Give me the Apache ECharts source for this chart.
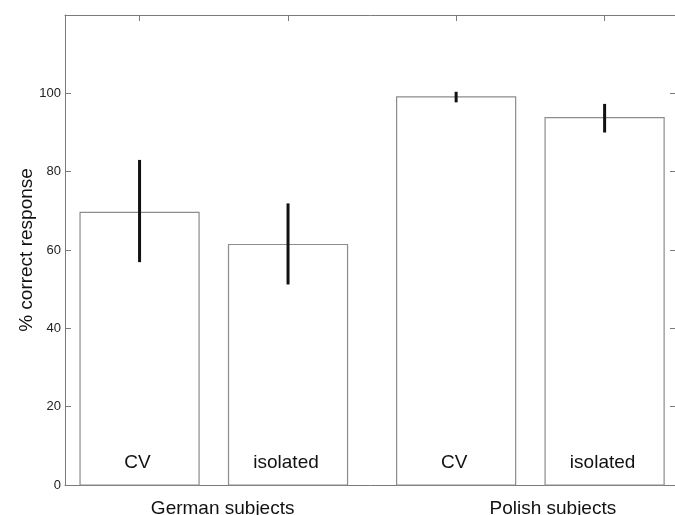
<!DOCTYPE html>
<html>
<head>
<meta charset="utf-8">
<script src="https://cdn.jsdelivr.net/npm/echarts@6/dist/echarts.min.js"></script>
<style>html,body{margin:0;padding:0;background:#fff}#c{width:675px;height:515px}</style>
</head>
<body>
<div id="c"></div>
<script>
// ---- data ----
var groups = ['German subjects', 'Polish subjects'];
var conditions = ['CV', 'isolated'];
var meanCV = [69.6, 99.1];
var meanIsolated = [61.4, 93.8];
var lowCV = [56.9, 97.7];
var highCV = [83.0, 100.4];
var lowIsolated = [51.2, 90.0];
var highIsolated = [71.9, 97.3];
var yTicks = [0, 20, 40, 60, 80, 100];

// ---- layout constants ----
var X_MIN = 0.53, X_MAX = 2.46;
var OFFSET = 0.2345;   // bar offset within group (axis units)
var BAR_W = 0.376;     // bar width (axis units)
var GROUP_LABEL_SHIFT = [0.028, 0.071];

var FONT = 'Liberation Sans, Arial, sans-serif';

function buildData() {
  var d = [];
  for (var g = 0; g < groups.length; g++) {
    d.push([g + 1 - OFFSET, meanCV[g], lowCV[g], highCV[g], 0]);
    d.push([g + 1 + OFFSET, meanIsolated[g], lowIsolated[g], highIsolated[g], 1]);
  }
  return d;
}

var barCenters = [];
for (var g = 0; g < groups.length; g++) {
  barCenters.push(g + 1 - OFFSET, g + 1 + OFFSET);
}
var groupLabelPos = groups.map(function (n, i) { return i + 1 + GROUP_LABEL_SHIFT[i]; });

var chart = echarts.init(document.getElementById('c'), null, {renderer: 'canvas'});
var axisColor = '#7a7a7a';

chart.setOption({
  animation: false,
  backgroundColor: '#fff',
  grid: {left: 65, top: 15, right: -1, bottom: 30, containLabel: false, outerBoundsMode: 'none'},
  xAxis: [{
    type: 'value', min: X_MIN, max: X_MAX, position: 'bottom',
    axisLine: {show: true, onZero: false, lineStyle: {color: axisColor, width: 1}},
    axisTick: {show: false},
    splitLine: {show: false},
    axisLabel: {
      show: true, customValues: groupLabelPos, margin: 14,
      fontFamily: FONT, fontSize: 19, color: '#111',
      formatter: function (v) {
        var best = 0, bd = 1e9;
        for (var i = 0; i < groupLabelPos.length; i++) {
          var dd = Math.abs(groupLabelPos[i] - v);
          if (dd < bd) { bd = dd; best = i; }
        }
        return groups[best];
      }
    }
  }, {
    type: 'value', min: X_MIN, max: X_MAX, position: 'top',
    axisLine: {show: true, onZero: false, lineStyle: {color: axisColor, width: 1}},
    axisTick: {show: true, inside: true, length: 6, customValues: barCenters, lineStyle: {color: axisColor}},
    axisLabel: {show: false},
    splitLine: {show: false}
  }],
  yAxis: [{
    type: 'value', min: 0, max: 120, interval: 20, position: 'left',
    name: '% correct response', nameLocation: 'middle', nameGap: 29, nameMoveOverlap: false,
    nameTextStyle: {fontFamily: FONT, fontSize: 19, color: '#111'},
    axisLine: {show: true, onZero: false, lineStyle: {color: axisColor, width: 1}},
    axisTick: {show: true, inside: true, length: 6, customValues: yTicks, lineStyle: {color: axisColor}},
    axisLabel: {customValues: yTicks, margin: 4, fontFamily: FONT, fontSize: 13, color: '#222'},
    splitLine: {show: false}
  }, {
    type: 'value', min: 0, max: 120, interval: 20, position: 'right',
    axisLine: {show: true, onZero: false, lineStyle: {color: axisColor, width: 1}},
    axisTick: {show: true, inside: true, length: 6, customValues: yTicks, lineStyle: {color: axisColor}},
    axisLabel: {show: false},
    splitLine: {show: false}
  }],
  series: [{
    type: 'custom',
    xAxisIndex: 0, yAxisIndex: 0,
    data: buildData(),
    clip: false,
    renderItem: function (params, api) {
      var x = api.value(0), m = api.value(1), lo = api.value(2), hi = api.value(3), ci = api.value(4);
      var pTop = api.coord([x, m]);
      var pBase = api.coord([x, 0]);
      var w = api.size([BAR_W, 0])[0];
      var pLo = api.coord([x, lo]);
      var pHi = api.coord([x, hi]);
      return {
        type: 'group',
        children: [{
          type: 'rect',
          shape: {x: pTop[0] - w / 2, y: pTop[1], width: w, height: pBase[1] - pTop[1]},
          style: {fill: '#fff', stroke: '#8c8c8c', lineWidth: 1.2}
        }, {
          type: 'line',
          shape: {x1: pLo[0], y1: pLo[1], x2: pHi[0], y2: pHi[1]},
          style: {stroke: '#111', lineWidth: 3}
        }, {
          type: 'text',
          x: pBase[0] - 2, y: pBase[1] - 22,
          style: {text: conditions[ci], fontFamily: FONT, fontSize: 19, fill: '#111', align: 'center', verticalAlign: 'middle'}
        }]
      };
    }
  }]
});
</script>
</body>
</html>
